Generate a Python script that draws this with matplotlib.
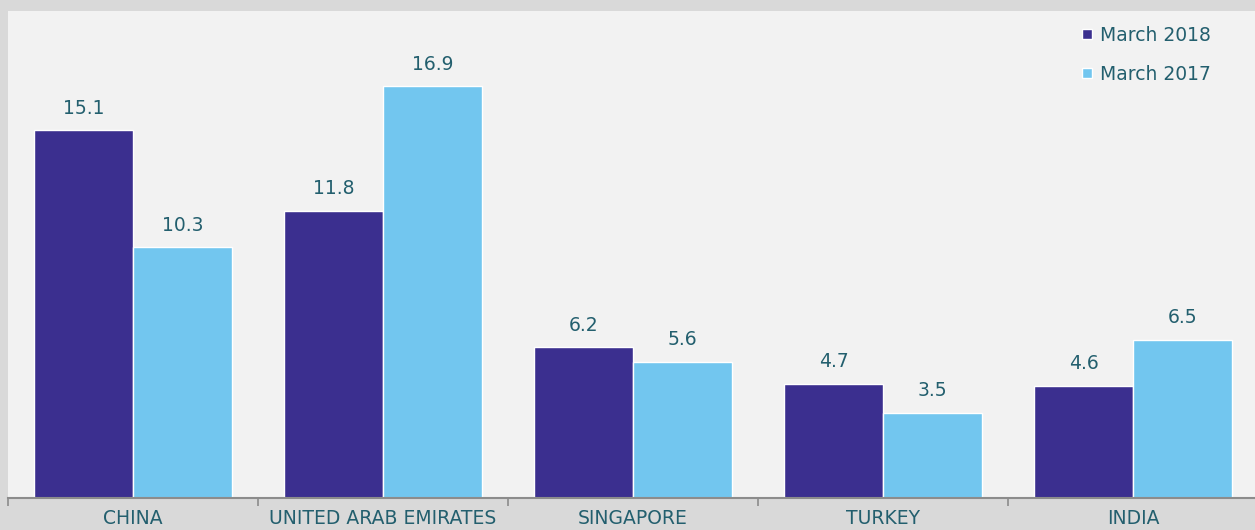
import numpy as np
import matplotlib
matplotlib.use("Agg")
import matplotlib.pyplot as plt
from matplotlib.lines import Line2D

countries = ["CHINA", "UNITED ARAB EMIRATES", "SINGAPORE", "TURKEY", "INDIA"]
march_2018 = [15.1, 11.8, 6.2, 4.7, 4.6]
march_2017 = [10.3, 16.9, 5.6, 3.5, 6.5]

dark = "#3b2f8f"
light = "#72c6ef"
text_col = "#235f6e"

plt.rcParams["font.family"] = ["DejaVu Sans"]

fig = plt.figure(figsize=(12.55, 5.3), dpi=100, facecolor="#d9d9d9")
ax = fig.add_axes([8 / 1255, 32 / 530, 1250 / 1255, 487 / 530])
ax.set_facecolor("#f2f2f2")

x = np.arange(len(countries))
w = 0.396
b1 = ax.bar(x - w / 2, march_2018, w, color=dark, edgecolor="white", linewidth=1, label="March 2018")
b2 = ax.bar(x + w / 2, march_2017, w, color=light, edgecolor="white", linewidth=1, label="March 2017")

for bars, vals in ((b1, march_2018), (b2, march_2017)):
    for r, v in zip(bars, vals):
        ax.annotate(f"{v:.1f}", (r.get_x() + r.get_width() / 2, v), xytext=(0, 9),
                    textcoords="offset points", ha="center", va="bottom",
                    fontsize=13.5, color=text_col)

ax.set_xlim(-0.5, len(countries) - 0.5)
ax.set_ylim(0, 20)
ax.set_yticks([])
ax.set_xticks(x)
ax.set_xticklabels(countries, fontsize=13.5, color=text_col)
ax.tick_params(axis="x", which="major", length=0, pad=8)
ax.set_xticks(np.arange(len(countries) + 1) - 0.5, minor=True)
ax.tick_params(axis="x", which="minor", length=6, width=1.2, color="#8c8c8c")
for s in ("top", "right", "left"):
    ax.spines[s].set_visible(False)
ax.spines["bottom"].set_color("#8c8c8c")
ax.spines["bottom"].set_linewidth(1.5)

handles = [Line2D([], [], marker="s", ls="", color=dark, markersize=7, markeredgecolor="white"),
           Line2D([], [], marker="s", ls="", color=light, markersize=7, markeredgecolor="white")]
leg = ax.legend(handles, ["March 2018", "March 2017"], loc="upper right",
                bbox_to_anchor=(1218 / 1250, 1.0), frameon=False, fontsize=13.5,
                handlelength=0.6, handletextpad=0.4, labelspacing=1.05,
                borderaxespad=0.4)
for t in leg.get_texts():
    t.set_color(text_col)

fig.savefig("out.png", dpi=100, facecolor=fig.get_facecolor())
